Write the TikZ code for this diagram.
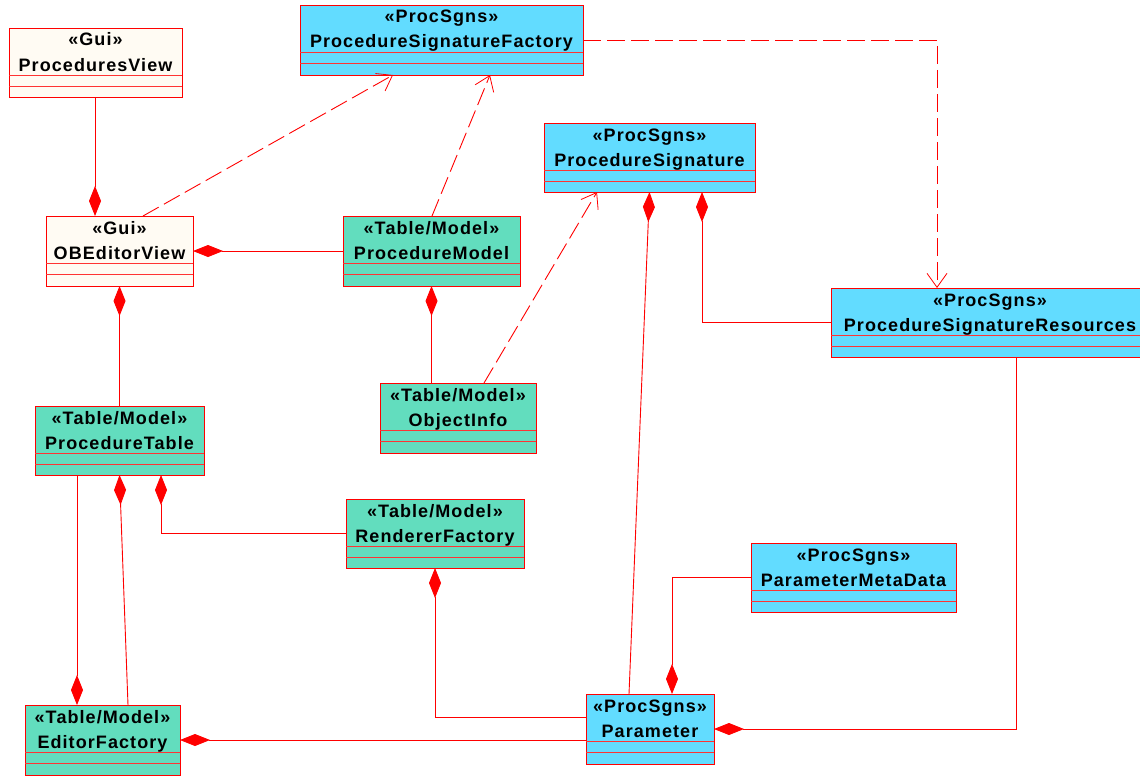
\documentclass[tikz,border=0pt]{standalone}
\usepackage{fontspec}
\newfontfamily\umlfont[LetterSpace=6]{Liberation Sans}
\usetikzlibrary{arrows.meta,calc}
\definecolor{guifill}{HTML}{FFFBF3}
\definecolor{sgnfill}{HTML}{62DCFF}
\definecolor{tblfill}{HTML}{62DDBE}
\definecolor{umlred}{HTML}{FF0000}
\tikzset{
  clsbox/.style={draw=umlred, line width=0.9pt, inner sep=0pt, outer sep=0pt},
  divider/.style={draw=umlred!80, line width=0.9pt},
  lbl/.style={font=\umlfont\bfseries\fontsize{18}{21}\selectfont, inner sep=0pt, anchor=base},
  conn/.style={draw=umlred, line width=0.9pt},
  compo/.style={conn, {Diamond[length=30pt,width=12pt,fill=umlred]}-},
  depend/.style={conn, dash pattern=on 18pt off 6pt, -{Straight Barb[length=14pt,width=20pt,line width=0.8pt]}},
}
% name, cx, cy, w, h, fill, stereotype, title
\newcommand\umlcls[8]{%
  \node[clsbox, fill=#6, minimum width=#4pt, minimum height=#5pt] (#1) at (#2,#3) {};
  \draw[divider] ([yshift=-47pt]#1.north west) -- ([yshift=-47pt]#1.north east);
  \draw[divider] ([yshift=-58pt]#1.north west) -- ([yshift=-58pt]#1.north east);
  \node[lbl] (#1-s) at ([yshift=-18pt]#1.north) {«#7»};
  \node[lbl] (#1-t) at ([yshift=-43pt]#1.north) {#8};
}
\begin{document}
\begin{tikzpicture}[x=1pt,y=-1pt]
\useasboundingbox (0,0) rectangle (1140,776);
\clip (0,0) rectangle (1140,776);
\fill[white] (0,0) rectangle (1140,776);

\umlcls{PV}{95.5}{62.5}{173}{69}{guifill}{Gui}{ProceduresView}
\umlcls{PSF}{441.5}{40}{283}{70}{sgnfill}{ProcSgns}{ProcedureSignatureFactory}
\umlcls{OBV}{119.5}{251}{147}{70}{guifill}{Gui}{OBEditorView}
\umlcls{PM}{431.5}{251}{177}{70}{tblfill}{Table/Model}{ProcedureModel}
\umlcls{PS}{649.5}{157.5}{211}{69}{sgnfill}{ProcSgns}{ProcedureSignature}
\umlcls{PSR}{990}{322.5}{318}{69}{sgnfill}{ProcSgns}{ProcedureSignatureResources}
\umlcls{OI}{458}{418}{156}{70}{tblfill}{Table/Model}{ObjectInfo}
\umlcls{PT}{119.5}{440.5}{169}{69}{tblfill}{Table/Model}{ProcedureTable}
\umlcls{RF}{435}{533.5}{178}{69}{tblfill}{Table/Model}{RendererFactory}
\umlcls{PMD}{853.5}{577.5}{205}{69}{sgnfill}{ProcSgns}{ParameterMetaData}
\umlcls{PAR}{650}{729}{128}{70}{sgnfill}{ProcSgns}{Parameter}
\umlcls{EF}{102.5}{740}{155}{70}{tblfill}{Table/Model}{EditorFactory}

% helper coordinates on borders
\coordinate (obvTop) at ($(OBV.north west)+(49,0)$);
\coordinate (obvTopR) at ($(OBV.north west)+(97,0)$);
\coordinate (psfB1) at ($(PSF.south west)+(93,0)$);
\coordinate (psfB2) at ($(PSF.south west)+(190,0)$);
\coordinate (pmTop) at ($(PM.north west)+(89,0)$);
\coordinate (oiTop) at ($(OI.north west)+(104,0)$);
\coordinate (psB1) at ($(PS.south west)+(53,0)$);
\coordinate (psB2) at ($(PS.south west)+(158,0)$);
\coordinate (psrTop) at ($(PSR.north west)+(106,0)$);
\coordinate (psrBot) at ($(PSR.south west)+(185,0)$);
\coordinate (parTop1) at ($(PAR.north west)+(43,0)$);
\coordinate (parTop2) at ($(PAR.north west)+(86,0)$);
\coordinate (parLeft) at ($(PAR.north west)+(0,23)$);
\coordinate (ptB1) at ($(PT.south west)+(42,0)$);
\coordinate (ptB3) at ($(PT.south west)+(126,0)$);
\coordinate (efTop2) at ($(EF.north west)+(103,0)$);

% compositions
\draw[compo] (obvTop) -- (obvTop |- PV.south);
\draw[compo] (OBV.east) -- (PM.west);
\draw[compo] (OBV.south) -- (PT.north);
\draw[compo] (PM.south) -- (PM.south |- OI.north);
\draw[compo] (psB2) |- (PSR.west);
\draw[compo] (PS.south) -- (parTop1);
\draw[compo] (ptB1 |- EF.north) -- (ptB1);
\draw[compo] (PT.south) -- (efTop2);
\draw[compo] (ptB3) |- (RF.west);
\draw[compo] (RF.south) |- (parLeft);
\draw[compo] (EF.east) -- (EF.east -| PAR.west);
\draw[compo] (parTop2) |- (PMD.west);
\draw[compo] (PAR.east) -| (psrBot);

% dependencies
\draw[depend] (obvTopR) -- (psfB1);
\draw[depend] (pmTop) -- (psfB2);
\draw[depend] (oiTop) -- (psB1);
\draw[depend] (PSF.east) -| (psrTop);
\end{tikzpicture}
\end{document}
